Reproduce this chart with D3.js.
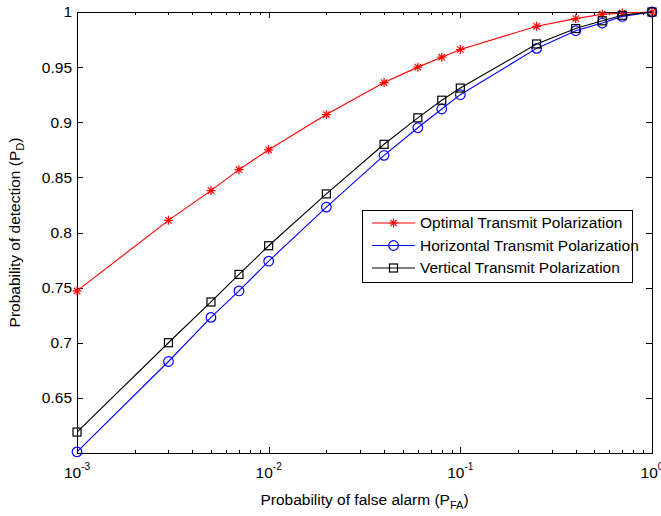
<!DOCTYPE html>
<html>
<head>
<meta charset="utf-8">
<style>
  body { margin: 0; background: #fff; }
  svg { display: block; font-family: "Liberation Sans", Arial, sans-serif; }
  .axis path, .axis line { stroke: #000; stroke-width: 1; shape-rendering: crispEdges; }
  .axis text { font-size: 15.5px; fill: #000; }
</style>
</head>
<body>
<div id="chart"></div>
<script src="https://cdn.jsdelivr.net/npm/d3@7"></script>
<script>

// data
var pfa = [0.001, 0.003, 0.005, 0.007, 0.01, 0.02, 0.04, 0.06, 0.08, 0.1, 0.25, 0.4, 0.55, 0.7, 1];
var pdOptimal    = [0.747, 0.811, 0.838, 0.857, 0.875, 0.907, 0.936, 0.950, 0.959, 0.966, 0.987, 0.994, 0.998, 0.999, 1.0];
var pdHorizontal = [0.601, 0.683, 0.723, 0.747, 0.774, 0.823, 0.870, 0.895, 0.912, 0.925, 0.967, 0.983, 0.990, 0.996, 1.0];
var pdVertical   = [0.619, 0.700, 0.737, 0.762, 0.788, 0.835, 0.880, 0.904, 0.920, 0.931, 0.971, 0.985, 0.992, 0.997, 1.0];
var seriesNames  = ["Optimal Transmit Polarization", "Horizontal Transmit Polarization", "Vertical Transmit Polarization"];
var yTicks = [0.65, 0.7, 0.75, 0.8, 0.85, 0.9, 0.95, 1];
var xMajor = [0.001, 0.01, 0.1, 1];
var xExp   = ["-3", "-2", "-1", "0"];

var width = 661, height = 516;
var plot = {left: 77, right: 652, top: 12, bottom: 453};

var svg = d3.select("#chart").append("svg")
    .attr("width", width)
    .attr("height", height);

var x = d3.scaleLog().domain([1e-3, 1]).range([plot.left, plot.right]);
var y = d3.scaleLinear().domain([0.6, 1]).range([plot.bottom, plot.top]);

// minor ticks for the log axis (2..9 in each decade)
var xMinor = [];
xMajor.slice(0, 3).forEach(function(d) {
    for (var k = 2; k <= 9; k++) xMinor.push(d * k);
});

// bottom axis
svg.append("g").attr("class", "axis")
    .attr("transform", "translate(0," + plot.bottom + ")")
    .call(d3.axisBottom(x).tickValues(xMajor).tickFormat("").tickSizeInner(-6).tickSizeOuter(0));
svg.append("g").attr("class", "axis")
    .attr("transform", "translate(0," + plot.bottom + ")")
    .call(d3.axisBottom(x).tickValues(xMinor).tickFormat("").tickSizeInner(-3).tickSizeOuter(0))
    .select(".domain").remove();
// top axis
svg.append("g").attr("class", "axis")
    .attr("transform", "translate(0," + plot.top + ")")
    .call(d3.axisTop(x).tickValues(xMajor).tickFormat("").tickSizeInner(-6).tickSizeOuter(0));
svg.append("g").attr("class", "axis")
    .attr("transform", "translate(0," + plot.top + ")")
    .call(d3.axisTop(x).tickValues(xMinor).tickFormat("").tickSizeInner(-3).tickSizeOuter(0))
    .select(".domain").remove();
// left axis
svg.append("g").attr("class", "axis")
    .attr("transform", "translate(" + plot.left + ",0)")
    .call(d3.axisLeft(y).tickValues(yTicks).tickFormat(d3.format("")).tickSizeInner(-6).tickSizeOuter(0).tickPadding(5));
// right axis
svg.append("g").attr("class", "axis")
    .attr("transform", "translate(" + plot.right + ",0)")
    .call(d3.axisRight(y).tickValues(yTicks).tickFormat("").tickSizeInner(-6).tickSizeOuter(0));

// x tick labels 10^n (last one runs off the edge, as in the original)
var xl = svg.append("g").selectAll("text")
    .data(xMajor)
    .enter().append("text")
    .attr("x", function(d) { return x(d); })
    .attr("y", 478)
    .attr("text-anchor", "middle")
    .style("font-size", "15.5px");
xl.append("tspan").text("10");
xl.append("tspan")
    .attr("dy", -8)
    .style("font-size", "10px")
    .text(function(d, i) { return xExp[i]; });

// axis titles
var xt = svg.append("text")
    .attr("x", (plot.left + plot.right) / 2)
    .attr("y", 505)
    .attr("text-anchor", "middle")
    .style("font-size", "15.5px");
xt.append("tspan").text("Probability of false alarm (P");
xt.append("tspan").attr("dy", 4).style("font-size", "11px").text("FA");
xt.append("tspan").attr("dy", -4).text(")");

var yt = svg.append("text")
    .attr("transform", "translate(20," + ((plot.top + plot.bottom) / 2) + ") rotate(-90)")
    .attr("text-anchor", "middle")
    .style("font-size", "15.5px");
yt.append("tspan").text("Probability of detection (P");
yt.append("tspan").attr("dy", 4).style("font-size", "11px").text("D");
yt.append("tspan").attr("dy", -4).text(")");

// markers
function starPath(r) {
    var a = r * 0.7071;
    return "M" + (-r) + ",0L" + r + ",0M0," + (-r) + "L0," + r +
           "M" + (-a) + "," + (-a) + "L" + a + "," + a +
           "M" + (-a) + "," + a + "L" + a + "," + (-a);
}
function drawMarker(g, type, color) {
    if (type === "star") {
        g.append("path").attr("d", starPath(4.5)).attr("stroke", color).attr("stroke-width", 1.2).attr("fill", "none");
    } else if (type === "circle") {
        g.append("circle").attr("r", 4.8).attr("stroke", color).attr("stroke-width", 1.2).attr("fill", "none");
    } else {
        g.append("rect").attr("x", -4).attr("y", -4).attr("width", 8).attr("height", 8)
            .attr("stroke", color).attr("stroke-width", 1.2).attr("fill", "none");
    }
}

var series = [
    {name: seriesNames[0], values: pdOptimal, color: "#ff0000", marker: "star"},
    {name: seriesNames[1], values: pdHorizontal, color: "#0000ff", marker: "circle"},
    {name: seriesNames[2], values: pdVertical, color: "#000000", marker: "square"}
];

var line = d3.line()
    .x(function(d) { return x(d[0]); })
    .y(function(d) { return y(d[1]); });

series.forEach(function(s) {
    var pts = pfa.map(function(p, i) { return [p, s.values[i]]; });
    svg.append("path")
        .datum(pts)
        .attr("d", line)
        .attr("fill", "none")
        .attr("stroke", s.color)
        .attr("stroke-width", 1.1);
    svg.append("g").selectAll("g")
        .data(pts)
        .enter().append("g")
        .attr("transform", function(d) { return "translate(" + x(d[0]) + "," + y(d[1]) + ")"; })
        .each(function() { drawMarker(d3.select(this), s.marker, s.color); });
});

// legend
var lg = svg.append("g").attr("transform", "translate(362,210)");
lg.append("rect")
    .attr("width", 270).attr("height", 72)
    .attr("fill", "#fff").attr("stroke", "#000").attr("stroke-width", 1)
    .style("shape-rendering", "crispEdges");
series.forEach(function(s, i) {
    var row = lg.append("g").attr("transform", "translate(0," + (13 + i * 22.5) + ")");
    row.append("line").attr("x1", 10).attr("x2", 53).attr("stroke", s.color).attr("stroke-width", 1.1);
    var m = row.append("g").attr("transform", "translate(31.5,0)");
    drawMarker(m, s.marker, s.color);
    row.append("text")
        .attr("x", 58).attr("y", 5)
        .style("font-size", "15.5px")
        .text(s.name);
});

</script>
</body>
</html>
